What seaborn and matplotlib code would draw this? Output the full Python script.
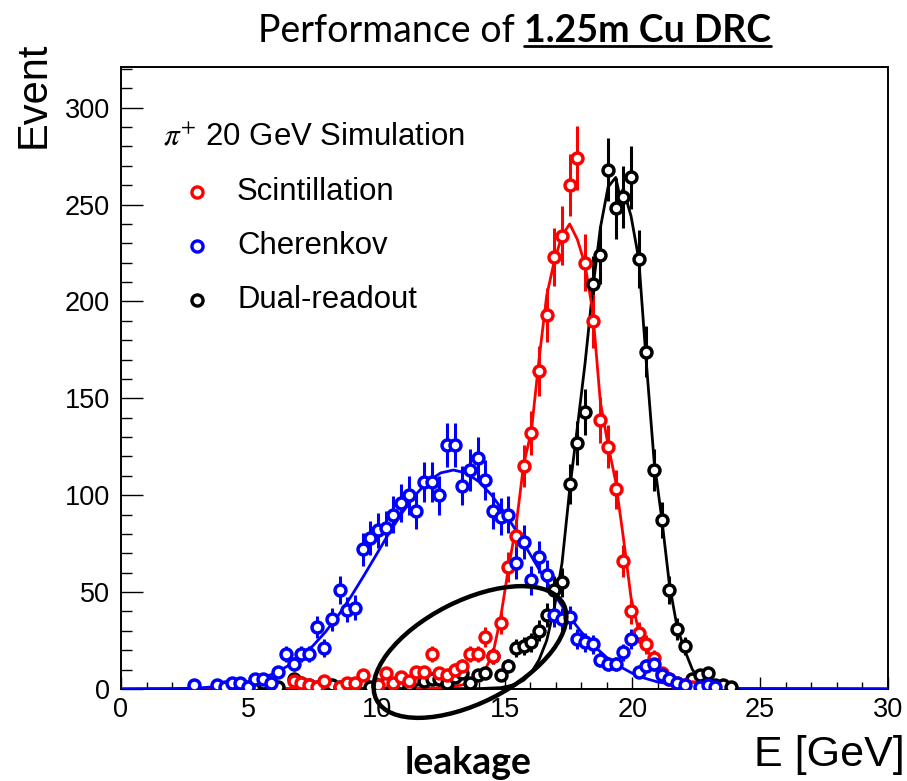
import matplotlib
matplotlib.use("Agg")
import matplotlib.pyplot as plt
from matplotlib.patches import Ellipse
from matplotlib.lines import Line2D
from matplotlib.transforms import IdentityTransform
import numpy as np
import pandas as pd
import seaborn as sns

# ---------------- data: 0.3 GeV bins, event counts ----------------
scint_e = [4.95, 6.75, 7.05, 7.35, 7.65, 7.95, 8.55, 8.85, 9.15, 9.45, 10.05, 10.35,
           10.65, 10.95, 11.25, 11.55, 11.85, 12.15, 12.45, 12.75, 13.05, 13.35, 13.65,
           13.95, 14.25, 14.55, 14.85, 15.15, 15.45, 15.75, 16.05, 16.35, 16.65, 16.95,
           17.25, 17.55, 17.85, 18.15, 18.45, 18.75, 19.05, 19.35, 19.65, 19.95, 20.25,
           20.55, 20.85, 21.15, 21.45, 21.75, 22.05, 22.35]
scint_n = [1, 4, 3, 2, 1, 4, 1, 3, 3, 7, 2, 8,
           3, 6, 4, 9, 9, 18, 8, 7, 10, 12, 18,
           18, 27, 17, 34, 63, 79, 115, 132, 164, 193, 223,
           234, 260, 274, 220, 190, 139, 125, 103, 66, 40, 29,
           23, 16, 8, 5, 3, 2, 1]

cher_e = [2.85, 3.75, 4.05, 4.35, 4.65, 4.95, 5.25, 5.55, 5.85, 6.15, 6.45, 6.75,
          7.05, 7.35, 7.65, 7.95, 8.25, 8.55, 8.85, 9.15, 9.45, 9.75, 10.05, 10.35,
          10.65, 10.95, 11.25, 11.55, 11.85, 12.15, 12.45, 12.75, 13.05, 13.35, 13.65,
          13.95, 14.25, 14.55, 14.85, 15.15, 15.45, 15.75, 16.05, 16.35, 16.65, 16.95,
          17.25, 17.55, 17.85, 18.15, 18.45, 18.75, 19.05, 19.35, 19.65, 19.95, 20.25,
          20.55, 20.85, 21.15, 21.45, 21.75, 22.05, 22.65, 22.95, 23.25]
cher_n = [2, 2, 1, 3, 3, 1, 5, 5, 3, 9, 18, 13,
          18, 18, 32, 21, 36, 51, 41, 42, 72, 78, 82, 83,
          90, 96, 100, 92, 107, 107, 100, 126, 126, 105, 113,
          119, 108, 92, 89, 90, 65, 76, 56, 68, 59, 38,
          36, 37, 26, 24, 23, 15, 13, 13, 19, 26, 9,
          12, 13, 7, 5, 3, 2, 1, 2, 1]

dual_e = [5.25, 5.55, 5.85, 6.15, 6.75, 7.05, 7.35, 7.65, 7.95, 8.25, 8.55, 8.85,
          9.15, 9.45, 9.75, 10.05, 10.35, 10.65, 10.95, 11.25, 11.55, 11.85, 12.15,
          12.45, 12.75, 13.05, 13.35, 13.65, 13.95, 14.25, 14.55, 14.85, 15.15, 15.45,
          15.75, 16.05, 16.35, 16.65, 16.95, 17.25, 17.55, 17.85, 18.15, 18.45, 18.75,
          19.05, 19.35, 19.65, 19.95, 20.25, 20.55, 20.85, 21.15, 21.45, 21.75, 22.05,
          22.35, 22.65, 22.95, 23.25, 23.55, 23.85]
dual_n = [2, 3, 3, 1, 5, 3, 2, 1, 3, 2, 1, 2,
          1, 3, 1, 2, 3, 1, 3, 2, 5, 4, 5,
          5, 3, 6, 8, 3, 7, 8, 17, 7, 12, 21,
          22, 24, 30, 38, 51, 55, 106, 127, 143, 209, 224,
          268, 248, 254, 264, 222, 174, 113, 87, 51, 31, 22,
          5, 7, 8, 2, 2, 1]

# ---------------- fitted response curves (sampled) ----------------
scint_fit_e = [0.0, 12.0, 12.9, 13.5, 13.95, 14.25, 14.55, 14.85, 15.15, 15.45, 15.75,
               16.05, 16.35, 16.65, 16.95, 17.25, 17.55, 17.85, 18.15, 18.45, 18.75,
               19.05, 19.35, 19.65, 19.95, 20.25, 20.55, 20.85, 21.15, 21.45, 21.75,
               22.05, 22.5, 23.5, 30.0]
scint_fit_n = [0.0, 0.3, 1.1, 2.5, 5.5, 10, 18.4, 37, 62, 84, 116,
               133, 170, 203, 221, 234, 240, 232, 219, 195, 148,
               126, 107, 78, 47, 30, 21, 14, 8.5, 5, 3,
               1.5, 0.7, 0.1, 0.0]

cher_fit_e = [0.0, 2.0, 3.0, 4.0, 5.0, 5.5, 6.0, 6.5, 7.0, 7.5, 8.0, 8.5, 9.0, 9.5,
              10.0, 10.5, 11.0, 11.5, 12.0, 12.5, 13.0, 13.5, 14.0, 14.5, 15.0, 15.5,
              16.0, 16.5, 17.0, 17.5, 18.0, 18.5, 19.0, 19.5, 20.0, 20.5, 21.0, 22.0,
              23.0, 24.0, 30.0]
cher_fit_n = [0.0, 0.2, 0.5, 1.5, 3.6, 5.5, 8.1, 11.7, 16.3, 22.2, 29.5, 38, 47.8, 58.5,
              69.6, 80.8, 91, 100, 107, 111.5, 113, 111.5, 107, 100, 91, 80.8,
              69.6, 58.5, 47.8, 38, 29.5, 22.2, 16.3, 11.7, 8.1, 5.5, 3.6, 1.5,
              0.5, 0.2, 0.0]

dual_fit_e = [0.0, 14.0, 14.85, 15.15, 15.45, 15.75, 16.05, 16.35, 16.65, 16.95, 17.25,
              17.55, 17.85, 18.15, 18.45, 18.75, 19.05, 19.35, 19.5, 19.65, 19.95,
              20.25, 20.55, 20.85, 21.15, 21.45, 21.75, 22.05, 22.35, 22.65, 22.95,
              23.4, 24.0, 30.0]
dual_fit_n = [0.0, 0.2, 0.7, 1.5, 2.6, 4.5, 8.5, 15, 25, 42, 65,
              103, 135, 168, 206, 238, 259, 264, 255, 258, 244,
              222, 168, 118, 88, 54, 32, 20, 10, 5, 2,
              0.6, 0.2, 0.0]

legend_header = r"$\pi^{+}$ 20 GeV Simulation"
series_labels = ["Scintillation", "Cherenkov", "Dual-readout"]
series_colors = ["#ff0000", "#0000ff", "#000000"]

W, H = 907, 781

sns.set_theme(style="white")
plt.rcParams["font.family"] = ["Liberation Sans", "DejaVu Sans"]
plt.rcParams["mathtext.fontset"] = "stix"
plt.rcParams["text.color"] = "black"
plt.rcParams["axes.labelcolor"] = "black"
plt.rcParams["xtick.color"] = "black"
plt.rcParams["ytick.color"] = "black"

fig = plt.figure(figsize=(W / 100, H / 100), dpi=100)
ax = fig.add_axes([121 / W, 1 - 689 / H, (888 - 121) / W, (689 - 67) / H])

points = pd.concat([
    pd.DataFrame({"E": dual_e, "N": dual_n, "s": "Dual-readout"}),
    pd.DataFrame({"E": scint_e, "N": scint_n, "s": "Scintillation"}),
    pd.DataFrame({"E": cher_e, "N": cher_n, "s": "Cherenkov"}),
], ignore_index=True)
points["err"] = np.sqrt(points["N"])

fits = pd.concat([
    pd.DataFrame({"E": dual_fit_e, "N": dual_fit_n, "s": "Dual-readout"}),
    pd.DataFrame({"E": scint_fit_e, "N": scint_fit_n, "s": "Scintillation"}),
    pd.DataFrame({"E": cher_fit_e, "N": cher_fit_n, "s": "Cherenkov"}),
], ignore_index=True)

palette = dict(zip(series_labels, series_colors))
order = ["Dual-readout", "Scintillation", "Cherenkov"]

for name in order:
    d = points[points["s"] == name]
    ax.vlines(d["E"], d["N"] - d["err"], d["N"] + d["err"],
              color=palette[name], lw=2.2, zorder=3)
    f = fits[fits["s"] == name]
    sns.lineplot(data=f, x="E", y="N", color=palette[name], lw=2.0,
                 ax=ax, sort=False, estimator=None, zorder=4)
    sns.scatterplot(data=d, x="E", y="N", color="white", edgecolor=palette[name],
                    marker="o", s=62, linewidth=2.5, ax=ax, zorder=5)

ax.set_xlim(0, 30)
ax.set_ylim(0, 321)
ax.set_xlabel("")
ax.set_ylabel("")
ax.set_xticks(np.arange(0, 31, 5))
ax.set_xticks(np.arange(0, 31, 1), minor=True)
ax.set_yticks(np.arange(0, 301, 50))
ax.set_yticks(np.arange(0, 321, 10), minor=True)
ax.tick_params(axis="x", which="major", direction="in", length=9, width=1.0,
               labelsize=19.5, pad=6, colors="black", bottom=True)
ax.tick_params(axis="x", which="minor", direction="in", length=5, width=1.0, bottom=True)
ax.tick_params(axis="y", which="major", direction="in", length=16, width=1.0,
               labelsize=19.5, pad=8, colors="black", left=True)
ax.tick_params(axis="y", which="minor", direction="in", length=8, width=1.0, left=True)
for sp in ax.spines.values():
    sp.set_visible(True)
    sp.set_color("black")
    sp.set_linewidth(1.4)
ax.grid(False)

# legend block
fig.text(163 / W, 1 - 138 / H, legend_header, fontsize=22.4, va="center", ha="left")
for i, (lab, col) in enumerate(zip(series_labels, series_colors)):
    yy = 192 + 54 * i
    fig.add_artist(Line2D([197 / W], [1 - yy / H], marker="o", markersize=8,
                          markerfacecolor="white", markeredgecolor=col,
                          markeredgewidth=2.4, linestyle="none"))
    fig.text(237 / W, 1 - yy / H, lab, fontsize=22.4, va="center", ha="left")

# axis titles
fig.text(34 / W, 1 - 95 / H, "Event", rotation=90, fontsize=30, ha="center", va="center")
fig.text(905 / W, 1 - 755 / H, "E [GeV]", fontsize=31, ha="right", va="center")

# title with bold, underlined detector name
title_kw = dict(fontsize=27, family=["Lato", "DejaVu Sans"], va="baseline", color="black")
t1 = fig.text(258 / W, 1 - 42 / H, "Performance of", **title_kw)
fig.canvas.draw()
bb1 = t1.get_window_extent()
gap = 0.25 * 27 * 100 / 72
t2 = fig.text((bb1.x1 + gap) / W, 1 - 42 / H, "1.25m Cu DRC", weight="bold", **title_kw)
fig.canvas.draw()
bb2 = t2.get_window_extent()
fig.add_artist(Line2D([bb2.x0 / W, bb2.x1 / W], [1 - 46 / H, 1 - 46 / H],
                      color="black", lw=2.0))

# leakage annotation
fig.add_artist(Ellipse((470, H - 652), width=210, height=102, angle=27,
                       transform=IdentityTransform(), fill=False,
                       edgecolor="black", lw=3.2, clip_on=False, zorder=10))
fig.text(468 / W, 1 - 763 / H, "leakage", fontsize=27, weight="bold",
         family=["Lato", "DejaVu Sans"], ha="center", va="center")

fig.savefig("out.png", dpi=100)
